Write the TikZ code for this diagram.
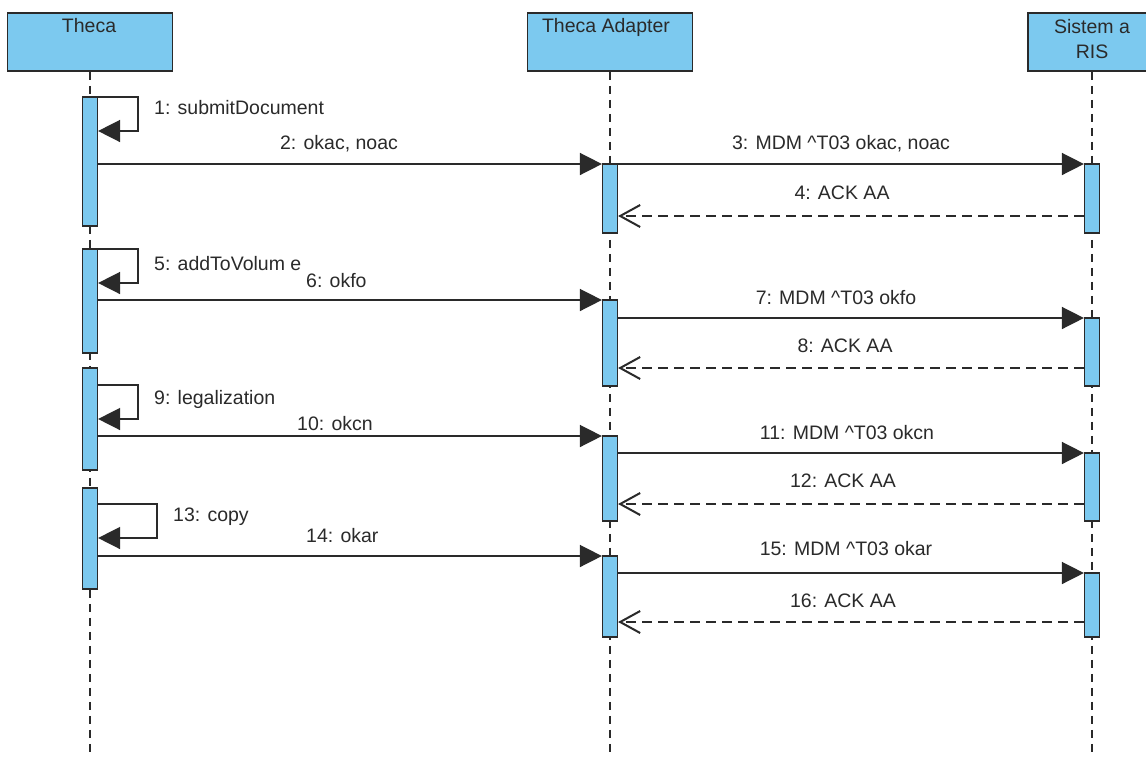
\documentclass[tikz,border=0pt]{standalone}
\usepackage{fontspec}
\setmainfont{Liberation Sans}
\usetikzlibrary{arrows.meta}
\definecolor{umlblue}{HTML}{7CC9EF}
\definecolor{lineg}{HTML}{2A2A2A}
\tikzset{
  head/.style={draw=lineg, line width=1.5pt, fill=umlblue, minimum height=58pt, inner sep=0pt},
  bar/.style={draw=lineg, line width=1.2pt, fill=umlblue, minimum width=15pt, inner sep=0pt},
  life/.style={draw=lineg, line width=1.5pt, dash pattern=on 8pt off 6pt},
  msg/.style={draw=lineg, line width=1.5pt, -{Triangle[length=22pt,width=22pt]}},
  reply/.style={draw=lineg, line width=1.5pt, dash pattern=on 10pt off 6pt, -{Straight Barb[length=20pt,width=22pt,line width=2pt]}},
  lbl/.style={font=\fontsize{19.5}{24}\selectfont, text=lineg, inner sep=0pt},
  hlbl/.style={font=\fontsize{19.5}{25}\selectfont, text=lineg, align=center, anchor=north, inner sep=0pt},
}
\begin{document}
\begin{tikzpicture}[x=1pt,y=-1pt]
\useasboundingbox (0,0) rectangle (1146,756);
\clip (0,0) rectangle (1146,756);
\fill[white] (0,0) rectangle (1146,756);
% headers
\node[head, minimum width=165pt] (h1) at (90,42) {};
\node[head, minimum width=165pt] (h2) at (610,42) {};
\node[head, minimum width=128pt] (h3) at (1092,42) {};
\node[hlbl] (h1t) at (89,18) {Theca};
\node[hlbl] (h2t) at (606,18) {Theca Adapter};
\node[hlbl] (h3t) at (1092,19) {Sistem a\\RIS};
% lifelines
\coordinate (e1) at (90,760);
\coordinate (e2) at (610,760);
\coordinate (e3) at (1092,760);
\draw[life] (h1.south) -- (e1);
\draw[life] (h2.south) -- (e2);
\draw[life] (h3.south) -- (e3);
% activation bars
\node[bar, minimum height=129pt] (t1) at (90,161.5) {};
\node[bar, minimum height=104pt] (t2) at (90,301) {};
\node[bar, minimum height=102pt] (t3) at (90,419) {};
\node[bar, minimum height=101pt] (t4) at (90,538.5) {};
\node[bar, minimum height=69pt] (a1) at (610,198.5) {};
\node[bar, minimum height=86pt] (a2) at (610,343) {};
\node[bar, minimum height=85pt] (a3) at (610,478.5) {};
\node[bar, minimum height=81pt] (a4) at (610,596.5) {};
\node[bar, minimum height=69pt] (r1) at (1092,198.5) {};
\node[bar, minimum height=68pt] (r2) at (1092,352) {};
\node[bar, minimum height=68pt] (r3) at (1092,487) {};
\node[bar, minimum height=64pt] (r4) at (1092,605) {};
% self messages
\draw[msg] (t1.east |- 0,97) -- ++(40,0) |- (t1.east |- 0,131);
\draw[msg] (t2.east |- 0,249) -- ++(40,0) |- (t2.east |- 0,283);
\draw[msg] (t3.east |- 0,385) -- ++(40,0) |- (t3.east |- 0,419);
\draw[msg] (t4.east |- 0,504) -- ++(59,0) |- (t4.east |- 0,538);
% messages
\draw[msg] (t1.east |- 0,164) -- (a1.west |- 0,164);
\draw[msg] (a1.east |- 0,164) -- (r1.west |- 0,164);
\draw[reply] (r1.west |- 0,216) -- (a1.east |- 0,216);
\draw[msg] (t2.east |- 0,300) -- (a2.west |- 0,300);
\draw[msg] (a2.east |- 0,318) -- (r2.west |- 0,318);
\draw[reply] (r2.west |- 0,368) -- (a2.east |- 0,368);
\draw[msg] (t3.east |- 0,436) -- (a3.west |- 0,436);
\draw[msg] (a3.east |- 0,453) -- (r3.west |- 0,453);
\draw[reply] (r3.west |- 0,504) -- (a3.east |- 0,504);
\draw[msg] (t4.east |- 0,556) -- (a4.west |- 0,556);
\draw[msg] (a4.east |- 0,573) -- (r4.west |- 0,573);
\draw[reply] (r4.west |- 0,622) -- (a4.east |- 0,622);
% labels
\node[lbl, anchor=west] (l1) at (154,108) {1: submitDocument};
\node[lbl] (l2) at (339,144) {2: okac, noac};
\node[lbl] (l3) at (841,144) {3: MDM \textasciicircum T03 okac, noac};
\node[lbl] (l4) at (842,193) {4: ACK AA};
\node[lbl, anchor=west] (l5) at (154,264) {5: addToVolum e};
\node[lbl, anchor=west] (l6) at (306,281) {6: okfo};
\node[lbl] (l7) at (836,298) {7: MDM \textasciicircum T03 okfo};
\node[lbl] (l8) at (845,346) {8: ACK AA};
\node[lbl, anchor=west] (l9) at (154,399) {9: legalization};
\node[lbl] (l10) at (335,424) {10: okcn};
\node[lbl] (l11) at (847,433) {11: MDM \textasciicircum T03 okcn};
\node[lbl] (l12) at (843,481) {12: ACK AA};
\node[lbl, anchor=west] (l13) at (173,517) {13: copy};
\node[lbl, anchor=west] (l14) at (306,536) {14: okar};
\node[lbl] (l15) at (846,549) {15: MDM \textasciicircum T03 okar};
\node[lbl] (l16) at (843,601) {16: ACK AA};
\end{tikzpicture}
\end{document}
